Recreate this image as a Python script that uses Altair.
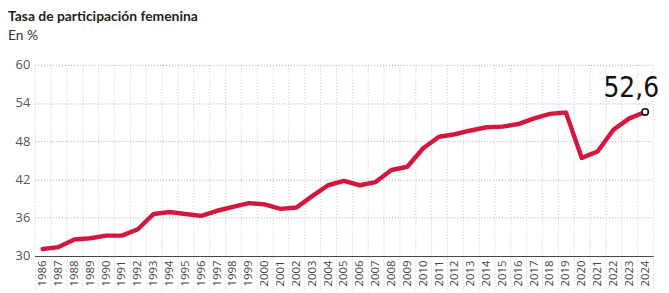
import altair as alt
import pandas as pd

years = list(range(1986, 2025))
values = [31.1, 31.4, 32.6, 32.8, 33.2, 33.2, 34.2, 36.6, 36.9, 36.6,
          36.3, 37.1, 37.7, 38.3, 38.1, 37.4, 37.6, 39.4, 41.1, 41.8,
          41.1, 41.6, 43.5, 44.0, 46.9, 48.7, 49.1, 49.7, 50.2, 50.3,
          50.7, 51.6, 52.3, 52.5, 45.4, 46.4, 49.8, 51.6, 52.6]
y_ticks = [30, 36, 42, 48, 54, 60]

df = pd.DataFrame({"year": years, "value": values})
df["label"] = df["value"].map(lambda v: f"{v:.1f}".replace(".", ","))

x_enc = alt.X(
    "year:O",
    bandPosition=0.5,
    scale=alt.Scale(type="band", paddingInner=0, paddingOuter=0),
    axis=alt.Axis(
        title=None,
        tickBand="extent",
        labelAngle=270,
        labelAlign="right",
        labelBaseline="middle",
        labelFont="Open Sans",
        labelFontSize=11.5,
        labelColor="#444",
        labelPadding=-30,
        labelOverlap=False,
        tickSize=34,
        tickColor="#c8c8c8",
        tickDash=[1, 2],
        tickWidth=1,
        domainColor="#444",
        domainWidth=1,
        grid=True,
        gridColor="#c8c8c8",
        gridDash=[1, 2],
        gridWidth=1,
    ),
)
y_enc = alt.Y(
    "value:Q",
    scale=alt.Scale(domain=[30, 60], nice=False, zero=False),
    axis=alt.Axis(
        title=None,
        values=y_ticks,
        tickCount=6,
        domain=False,
        ticks=False,
        labelOverlap=False,
        labelFont="Open Sans",
        labelFontSize=13,
        labelColor="#555",
        labelPadding=5,
        grid=True,
        gridColor="#a8a8a8",
        gridDash=[1, 2],
        gridWidth=1,
    ),
)

base = alt.Chart(df).encode(x=x_enc, y=y_enc)

line = base.mark_line(
    color="#d3173f", strokeWidth=4.5, strokeJoin="round", strokeCap="round"
)

pt = base.mark_point(
    shape="circle", filled=True, fill="white", stroke="#111",
    strokeWidth=1.6, size=42, opacity=1
).transform_filter(alt.datum.year == years[-1])

lab = base.mark_text(
    align="right", baseline="alphabetic", dx=14, dy=-15,
    font="Liberation Sans Narrow, DejaVu Sans Condensed, Roboto, sans-serif",
    fontSize=28, color="#111"
).encode(text="label:N").transform_filter(alt.datum.year == years[-1])

chart = alt.layer(line, pt, lab).properties(
    width=624,
    height=193,
    autosize="none",
    padding={"left": 27, "top": 56, "right": 8, "bottom": 35},
    title=alt.TitleParams(
        text="Tasa de participación femenina",
        subtitle="En %",
        anchor="start",
        frame="group",
        dx=-27,
        offset=16,
        font="Lato",
        fontSize=14,
        fontWeight="bold",
        color="#222",
        subtitleFont="Lato",
        subtitleFontSize=14,
        subtitleColor="#333",
        subtitlePadding=5,
    ),
).configure_view(stroke=None)

chart.save("out.html", embed_options={"renderer": "svg", "actions": False})
